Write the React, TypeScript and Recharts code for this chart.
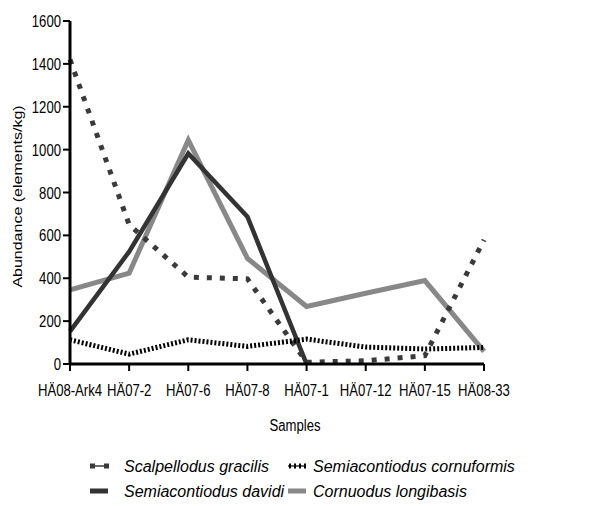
import { LineChart, Line, XAxis, YAxis } from "recharts";

const samples = ["HÄ08-Ark4", "HÄ07-2", "HÄ07-6", "HÄ07-8", "HÄ07-1", "HÄ07-12", "HÄ07-15", "HÄ08-33"];
const scalpellodus = [1420, 650, 405, 397, 8, 15, 39, 579];
const davidi = [152, 524, 982, 687, 0, null, null, null];
const cornuformis = [113, 46, 113, 82, 116, 79, 70, 77];
const longibasis = [346, 424, 1044, 493, 268, 330, 389, 59];
const yTicks = [0, 200, 400, 600, 800, 1000, 1200, 1400, 1600];

const data = samples.map((s, i) => ({
  sample: s,
  scalpellodus: scalpellodus[i],
  davidi: davidi[i],
  cornuformis: cornuformis[i],
  longibasis: longibasis[i],
}));

const FONT = "'Liberation Sans', Arial, Helvetica, sans-serif";
const SX = 0.82; // the reference text is narrow

// legend rows: [icon, name]
const legendRow1 = [
  { name: "Scalpellodus gracilis", kind: "sq" },
  { name: "Semiacontiodus cornuformis", kind: "dot" },
];
const legendRow2 = [
  { name: "Semiacontiodus davidi", kind: "dark" },
  { name: "Cornuodus longibasis", kind: "gray" },
];

function NarrowText({ x, y, anchor, children, size = 16 }: any) {
  return (
    <g transform={`translate(${x} ${y}) scale(${SX} 1)`}>
      <text x={0} y={0} textAnchor={anchor} fontSize={size} fontFamily={FONT} fill="#000">
        {children}
      </text>
    </g>
  );
}

function XTick(props: any) {
  const { x, y, payload } = props;
  return <NarrowText x={x} y={y + 9} anchor="middle">{payload.value}</NarrowText>;
}

function YTick(props: any) {
  const { x, y, payload } = props;
  return <NarrowText x={x} y={y + 6} anchor="end">{payload.value}</NarrowText>;
}

function LegendIcon({ kind, x, y }: { kind: string; x: number; y: number }) {
  if (kind === "sq")
    return (
      <g>
        <rect x={x} y={y - 2.5} width={5} height={5} fill="#3a3a3a" />
        <rect x={x + 14} y={y - 2.5} width={5} height={5} fill="#3a3a3a" />
        <line x1={x + 4} y1={y} x2={x + 15} y2={y} stroke="#3a3a3a" strokeWidth={1.5} />
      </g>
    );
  if (kind === "dot")
    return (
      <g>
        <line x1={x} y1={y} x2={x + 18} y2={y} stroke="#000" strokeWidth={1.2} />
        <line x1={x + 1} y1={y} x2={x + 18} y2={y} stroke="#000" strokeWidth={5} strokeDasharray="2 3" />
      </g>
    );
  return <rect x={x} y={y - 2.5} width={18} height={5} fill={kind === "dark" ? "#333" : "#888"} />;
}

export default function App() {
  return (
    <div style={{ position: "absolute", left: 0, top: 0, width: 616, height: 506, background: "#fff" }}>
      <LineChart width={616} height={506} data={data} margin={{ top: 21, right: 132, left: 0, bottom: 112 }}>
        <XAxis
          dataKey="sample"
          scale="point"
          padding={{ left: 0, right: 0 }}
          axisLine={{ stroke: "#000", strokeWidth: 3 }}
          tickLine={{ stroke: "#000", strokeWidth: 2 }}
          tickSize={7}
          tickMargin={16}
          height={30}
          interval={0}
          tick={<XTick />}
          label={{
            content: () => <NarrowText x={295} y={431} anchor="middle">Samples</NarrowText>,
          }}
        />
        <YAxis
          domain={[0, 1600]}
          ticks={yTicks}
          width={70}
          axisLine={{ stroke: "#000", strokeWidth: 3 }}
          tickLine={{ stroke: "#000", strokeWidth: 2 }}
          tickSize={7}
          tickMargin={2}
          interval={0}
          tick={<YTick />}
          label={{
            content: (p: any) => {
              const cy = p.viewBox.y + p.viewBox.height / 2;
              return (
                <g transform={`translate(22 ${cy + 4}) rotate(-90) scale(1 ${SX})`}>
                  <text x={0} y={0} textAnchor="middle" fontSize={16} fontFamily={FONT} fill="#000">
                    Abundance (elements/kg)
                  </text>
                </g>
              );
            },
          }}
        />
        <Line dataKey="longibasis" stroke="#888" strokeWidth={5} dot={false} isAnimationActive={false} strokeLinejoin="miter" />
        <Line dataKey="davidi" stroke="#333" strokeWidth={4.5} dot={false} isAnimationActive={false} strokeLinejoin="miter" />
        <Line dataKey="scalpellodus" stroke="#3a3a3a" strokeWidth={5} strokeDasharray="5 8" dot={false} isAnimationActive={false} />
        <Line dataKey="cornuformis" stroke="#000" strokeWidth={5} strokeDasharray="2 2" dot={false} isAnimationActive={false} />
      </LineChart>
      <svg width={616} height={70} style={{ position: "absolute", left: 0, top: 440 }}>
        {[legendRow1, legendRow2].map((row, r) =>
          row.map((it, c) => {
            const iconX = c === 0 ? 90 : 288;
            const textX = c === 0 ? 124 : 313;
            const cy = r === 0 ? 26 : 51;
            return (
              <g key={it.name}>
                <LegendIcon kind={it.kind} x={iconX} y={cy} />
                <text x={textX} y={cy + 6} fontSize={16} fontStyle="italic" fontFamily={FONT} fill="#000">
                  {it.name}
                </text>
              </g>
            );
          })
        )}
      </svg>
    </div>
  );
}
